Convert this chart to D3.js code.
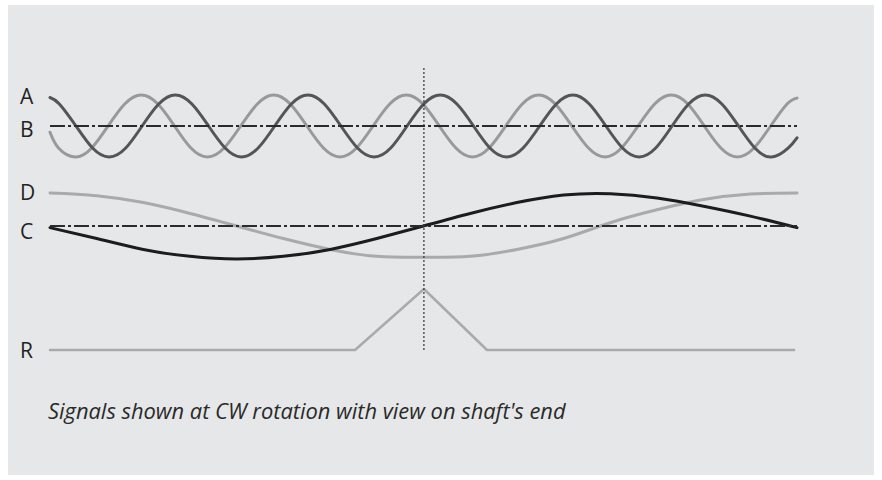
<!DOCTYPE html>
<html>
<head>
<meta charset="utf-8">
<script src="https://cdn.jsdelivr.net/npm/d3@7/dist/d3.min.js"></script>
<style>
  html, body { margin: 0; padding: 0; background: #ffffff; }
  svg { display: block; }
</style>
</head>
<body>
<svg id="chart" width="882" height="480"></svg>
<script>
// ---- Data (shaft angle in degrees, normalised signal level) ----
const aAngle = [0, 4.5, 12.5, 20.5, 28.5, 36.5, 44.4, 52.4, 60.4, 68.4, 76.4, 84.4, 92.3, 100.3, 108.3, 116.3, 124.3, 132.2, 140.2, 148.2, 156.2, 164.2, 172.1, 180.1, 188.1, 196.1, 204.1, 212.0, 220.0, 228.0, 236.0, 244.0, 252.0, 259.9, 267.9, 275.9, 283.9, 291.9, 299.8, 307.8, 315.8, 323.8, 331.8, 339.7, 347.7, 355.7, 360];
const aValue = [0.92, 0.71, 0, -0.71, -1, -0.71, 0, 0.71, 1, 0.71, 0, -0.71, -1, -0.71, 0, 0.71, 1, 0.71, 0, -0.71, -1, -0.71, 0, 0.71, 1, 0.71, 0, -0.71, -1, -0.71, 0, 0.71, 1, 0.71, 0, -0.71, -1, -0.71, 0, 0.71, 1, 0.71, 0, -0.71, -1, -0.71, -0.38];

const bAngle = [0, 4.1, 12.1, 20.1, 28.0, 36.0, 44.0, 52.0, 60.0, 67.9, 75.9, 83.9, 91.9, 99.9, 107.8, 115.8, 123.8, 131.8, 139.8, 147.7, 155.7, 163.7, 171.7, 179.7, 187.6, 195.6, 203.6, 211.6, 219.6, 227.6, 235.5, 243.5, 251.5, 259.5, 267.5, 275.4, 283.4, 291.4, 299.4, 307.4, 315.3, 323.3, 331.3, 339.3, 347.3, 355.2, 360];
const bValue = [-0.2, -0.71, -1, -0.71, 0, 0.71, 1, 0.71, 0, -0.71, -1, -0.71, 0, 0.71, 1, 0.71, 0, -0.71, -1, -0.71, 0, 0.71, 1, 0.71, 0, -0.71, -1, -0.71, 0, 0.71, 1, 0.71, 0, -0.71, -1, -0.71, 0, 0.71, 1, 0.71, 0, -0.71, -1, -0.71, 0, 0.71, 0.9];

const cdAngle = [0, 22.5, 45, 67.5, 90, 112.5, 135, 157.5, 180, 202.5, 225, 247.5, 270, 292.5, 315, 337.5, 360];
const cValue = [-0.05, -0.38, -0.71, -0.92, -1, -0.92, -0.71, -0.38, 0, 0.38, 0.71, 0.94, 0.98, 0.85, 0.6, 0.3, -0.05];
const dValue = [1, 0.92, 0.71, 0.38, 0, -0.38, -0.71, -0.92, -0.95, -0.92, -0.71, -0.38, 0.1, 0.49, 0.8, 0.97, 1];

const rAngle = [0, 147.0, 180.2, 210.6, 358.6];
const rValue = [0, 0, 1, 0, 0];

const indexAngle = 180.2;
const channelLabels = ["A", "B", "D", "C", "R"];
const footnote = "Signals shown at CW rotation with view on shaft's end";

// ---- Layout ----
const svg = d3.select("#chart");
svg.append("rect").attr("x", 8).attr("y", 5).attr("width", 866).attr("height", 470).attr("fill", "#e6e7e9");

const x = d3.scaleLinear().domain([0, 360]).range([50, 797]);
const yAB = d3.scaleLinear().domain([-1, 1]).range([157, 95]);
const yCD = d3.scaleLinear().domain([-1, 1]).range([259, 193]);
const yR = d3.scaleLinear().domain([0, 1]).range([350, 289]);

const zipPts = (xs, vs) => xs.map((a, i) => [a, vs[i]]);

function drawCurve(xs, vs, yScale, color, width, curve) {
  const line = d3.line().x(d => x(d[0])).y(d => yScale(d[1])).curve(curve);
  svg.append("path")
    .attr("d", line(zipPts(xs, vs)))
    .attr("fill", "none")
    .attr("stroke", color)
    .attr("stroke-width", width)
    .attr("stroke-linecap", "round")
    .attr("stroke-linejoin", "round");
}

drawCurve(bAngle, bValue, yAB, "#999999", 3, d3.curveNatural);
drawCurve(aAngle, aValue, yAB, "#555555", 3, d3.curveNatural);
drawCurve(cdAngle, dValue, yCD, "#aaaaaa", 3, d3.curveNatural);
drawCurve(cdAngle, cValue, yCD, "#1c1c1c", 3, d3.curveNatural);
drawCurve(rAngle, rValue, yR, "#aaaaaa", 2.5, d3.curveLinear);

// reference dash-dot lines
[[yAB, 0], [yCD, 0]].forEach(([s, v]) => {
  svg.append("line")
    .attr("x1", x(0)).attr("x2", x(360))
    .attr("y1", s(v)).attr("y2", s(v))
    .attr("stroke", "#2b2b2b")
    .attr("stroke-width", 2)
    .attr("stroke-dasharray", "15,3,3,3");
});

// index dotted line
svg.append("line")
  .attr("x1", x(indexAngle)).attr("x2", x(indexAngle))
  .attr("y1", 68).attr("y2", 350)
  .attr("stroke", "#333333")
  .attr("stroke-width", 1.2)
  .attr("stroke-dasharray", "2,2");

// channel labels
const labelY = [104, 137, 200, 239, 358];
channelLabels.forEach((t, i) => {
  svg.append("text")
    .attr("x", 20).attr("y", labelY[i])
    .attr("font-family", "'Open Sans', 'DejaVu Sans', sans-serif")
    .attr("font-size", 21)
    .attr("fill", "#222222")
    .text(t);
});

const fn = svg.append("text")
  .attr("x", 48).attr("y", 419)
  .attr("font-family", "'Open Sans', 'DejaVu Sans', sans-serif")
  .attr("font-style", "italic")
  .attr("font-size", 18)
  .attr("fill", "#2a2a2a")
  .text(footnote);
const w = fn.node().getComputedTextLength();
if (w > 0) fn.attr("font-size", 18 * 518 / w);
</script>
</body>
</html>
